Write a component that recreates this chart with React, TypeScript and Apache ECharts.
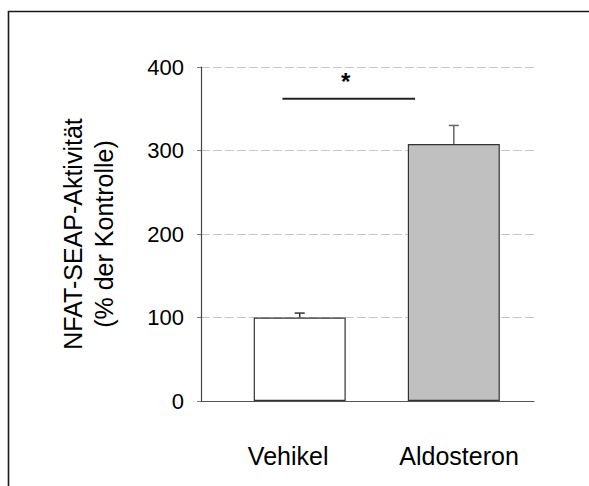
import React, { useEffect, useRef } from "react";
import * as echarts from "echarts";

const categories = ["Vehikel", "Aldosteron"];
const positions = [1, 2];
const labelPositions = [0.925, 2.034];
const means = [100, 307.8];
const errorTops = [105.3, 330];
const barColors = ["#ffffff", "#c0c0c0"];
const errorColors = ["#333333", "#666666"];
const yMin = 0;
const yMax = 400;
const yStep = 100;
// significance bracket, in data units: [x start, x end, y]
const sigLine = [0.888, 1.749, 362];
// asterisk, in data units: [x, y]
const sigStar = [1.298, 382.5];
const sigLabel = "*";
const yTitle = "NFAT-SEAP-Aktivität\n(% der Kontrolle)";

const FONT = "'Liberation Sans', Arial, sans-serif";

export default function App() {
  const ref = useRef<HTMLDivElement>(null);
  useEffect(() => {
    if (!ref.current) return;
    const chart = echarts.init(ref.current, undefined, { renderer: "svg" });
    const xMin = 0.3595;
    const xMax = 2.5204;
    chart.setOption({
      animation: false,
      backgroundColor: "#ffffff",
      grid: { left: 201, right: 55, top: 67, bottom: 85, containLabel: false },
      graphic: [
        {
          type: "polyline",
          shape: { points: [[8.5, 495], [8.5, 11.5], [600, 11.5]] },
          style: { stroke: "#1a1a1a", lineWidth: 1.6, fill: "none" },
          silent: true,
        },
      ],
      xAxis: {
        type: "value",
        min: xMin,
        max: xMax,
        splitLine: { show: false },
        axisTick: { show: false },
        axisLine: { show: true, onZero: false, lineStyle: { color: "#555555", width: 1.2 } },
        axisLabel: {
          customValues: labelPositions,
          formatter: (v: number) => {
            let best = 0;
            labelPositions.forEach((p, i) => {
              if (Math.abs(p - v) < Math.abs(labelPositions[best] - v)) best = i;
            });
            return categories[best];
          },
          margin: 42,
          fontSize: 25,
          color: "#000000",
          fontFamily: FONT,
        },
      },
      yAxis: {
        type: "value",
        min: yMin,
        max: yMax,
        interval: yStep,
        name: yTitle,
        nameLocation: "middle",
        nameGap: 82,
        nameTextStyle: { fontSize: 25, lineHeight: 31, color: "#000000", fontFamily: FONT },
        axisLine: { show: true, lineStyle: { color: "#444444", width: 1.2 } },
        axisTick: { show: true, length: 4, inside: false, lineStyle: { color: "#777777" } },
        splitLine: {
          show: true,
          lineStyle: { color: "#c8c8c8", type: [9, 3], width: 1 },
        },
        axisLabel: { margin: 17, fontSize: 22, color: "#000000", fontFamily: FONT },
      },
      series: [
        {
          type: "bar",
          barWidth: 92,
          data: positions.map((p, i) => ({
            value: [p, means[i]],
            itemStyle: { color: barColors[i], borderColor: "#333333", borderWidth: 1.2 },
          })),
          z: 2,
        },
        {
          type: "custom",
          z: 3,
          data: positions.map((p, i) => [p, means[i], errorTops[i]]),
          renderItem: (params: any, api: any) => {
            const x = api.value(0);
            const lo = api.coord([x, api.value(1)]);
            const hi = api.coord([x, api.value(2)]);
            const half = 5;
            const color = errorColors[params.dataIndex];
            return {
              type: "group",
              children: [
                {
                  type: "line",
                  shape: { x1: lo[0], y1: lo[1], x2: hi[0], y2: hi[1] },
                  style: { stroke: color, lineWidth: 1.5 },
                },
                {
                  type: "line",
                  shape: { x1: hi[0] - half, y1: hi[1], x2: hi[0] + half, y2: hi[1] },
                  style: { stroke: color, lineWidth: 1.5 },
                },
              ],
            };
          },
        },
        {
          type: "custom",
          z: 4,
          data: [[sigLine[0], sigLine[1], sigLine[2], sigStar[0], sigStar[1]]],
          renderItem: (params: any, api: any) => {
            const a = api.coord([api.value(0), api.value(2)]);
            const b = api.coord([api.value(1), api.value(2)]);
            const s = api.coord([api.value(3), api.value(4)]);
            return {
              type: "group",
              children: [
                {
                  type: "line",
                  shape: { x1: a[0], y1: a[1], x2: b[0], y2: b[1] },
                  style: { stroke: "#222222", lineWidth: 2 },
                },
                {
                  type: "text",
                  x: s[0],
                  y: s[1],
                  style: {
                    text: sigLabel,
                    fontSize: 24,
                    fontWeight: "bold",
                    fontFamily: FONT,
                    fill: "#000000",
                    align: "center",
                    verticalAlign: "middle",
                  },
                },
              ],
            };
          },
        },
      ],
    });
    return () => chart.dispose();
  }, []);
  return (
    <div
      ref={ref}
      style={{ position: "absolute", left: 0, top: 0, width: 589, height: 486 }}
    />
  );
}
